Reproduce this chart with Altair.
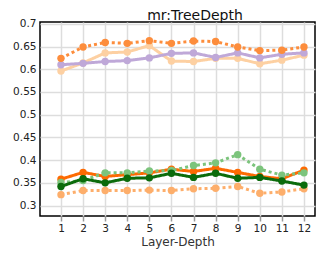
import altair as alt
import pandas as pd

title_text = "mr:TreeDepth"
depth = list(range(1, 13))

orange_dot = [0.624, 0.649, 0.659, 0.657, 0.663, 0.657, 0.662, 0.661, 0.649, 0.641, 0.642, 0.649]
peach_solid = [0.596, 0.614, 0.636, 0.638, 0.652, 0.618, 0.617, 0.624, 0.624, 0.612, 0.620, 0.631]
lavender = [0.610, 0.613, 0.617, 0.619, 0.625, 0.635, 0.636, 0.626, 0.636, 0.625, 0.633, 0.636]
orange_solid = [0.358, 0.373, 0.364, 0.368, 0.372, 0.380, 0.375, 0.382, 0.373, 0.364, 0.359, 0.378]
dark_green = [0.342, 0.359, 0.350, 0.360, 0.361, 0.371, 0.362, 0.371, 0.360, 0.362, 0.354, 0.345]
light_green_dot = [0.351, 0.355, 0.372, 0.372, 0.376, 0.377, 0.388, 0.394, 0.412, 0.380, 0.367, 0.372]
peach_dot = [0.324, 0.333, 0.333, 0.333, 0.334, 0.333, 0.337, 0.338, 0.342, 0.327, 0.330, 0.337]
y_ticks = [0.3, 0.35, 0.4, 0.45, 0.5, 0.55, 0.6, 0.65, 0.7]

series = [
    ("peach_solid", peach_solid, "#fdd0a2", False),
    ("lavender", lavender, "#bfa8d8", False),
    ("orange_dot", orange_dot, "#fd8d3c", True),
    ("peach_dot", peach_dot, "#fdae6b", True),
    ("orange_solid", orange_solid, "#fd6a02", False),
    ("light_green_dot", light_green_dot, "#7cc47c", True),
    ("dark_green", dark_green, "#0b6b0b", False),
]

x_scale = alt.Scale(domain=[0.05, 12.5], nice=False, zero=False)
y_scale = alt.Scale(domain=[0.277, 0.704], nice=False, zero=False)

x_axis = alt.Axis(title="Layer-Depth", values=depth, grid=True, tickSize=5,
                  tickColor="#999", tickWidth=1.5, labelPadding=2, titlePadding=3)
y_axis = alt.Axis(title=None, values=y_ticks, grid=True, ticks=False,
                  labelPadding=4, format="~g")

layers = []
for name, vals, color, dotted in series:
    df = pd.DataFrame({"depth": depth, "value": vals})
    base = alt.Chart(df)
    enc = dict(
        x=alt.X("depth:Q", scale=x_scale, axis=x_axis),
        y=alt.Y("value:Q", scale=y_scale, axis=y_axis),
    )
    line = base.mark_line(color=color, strokeWidth=3,
                          strokeDash=[3, 3] if dotted else [1, 0]).encode(**enc)
    pts = base.mark_circle(color=color, size=55, opacity=1).encode(**enc)
    layers += [line, pts]

title_layer = alt.Chart(pd.DataFrame({"t": [title_text]})).mark_text(
    font="DejaVu Sans", fontSize=14, color="#111", align="center",
    baseline="alphabetic", clip=False
).encode(x=alt.value(155), y=alt.value(-2), text="t:N")
layers.append(title_layer)

chart = alt.layer(*layers).properties(
    width=275, height=194,
    autosize=alt.AutoSizeParams(type="none"),
    padding={"left": 32, "top": 14, "right": 1, "bottom": 35},
).configure_view(
    stroke="black", strokeWidth=1.5
).configure_axis(
    gridColor="#dddddd", gridWidth=1.5, domain=False,
    labelFont="DejaVu Sans", labelFontSize=10.5, labelColor="#222",
    titleFont="DejaVu Sans", titleFontSize=12, titleFontWeight="normal", titleColor="#333",
)

chart.save("out.html", embed_options={"renderer": "svg", "actions": False})
